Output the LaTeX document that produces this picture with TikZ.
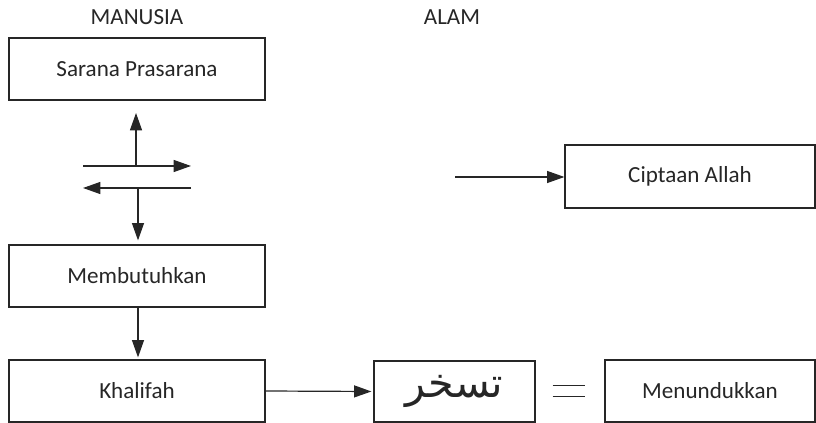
\documentclass[tikz,border=0pt]{standalone}
\usepackage{fontspec}
\setmainfont{Carlito}
\newfontfamily\arabicfont[Script=Arabic]{DejaVu Sans}
\TeXXeTstate=1
\usetikzlibrary{arrows.meta}

\tikzset{
  ink/.style={draw=black!85, line width=0.9pt},
  box/.style={ink, rectangle, inner sep=0pt, text=black!85,
              font=\fontsize{17.3}{20}\selectfont},
  lbl/.style={inner sep=0pt, text=black!85, font=\fontsize{17.3}{20}\selectfont},
  arr/.style={ink, -{Triangle[length=13pt, width=9pt]}},
}

\begin{document}
\begin{tikzpicture}[x=0.75pt, y=-0.75pt]
  \useasboundingbox (0,0) rectangle (816,423);

  % column headings
  \node[lbl] (manusia) at (137,17) {MANUSIA};
  \node[lbl] (alam)    at (452,17) {ALAM};

  % left column
  \node[box, minimum width=192pt, minimum height=46.5pt] (sarana) at (137,69)  {Sarana Prasarana};
  \node[box, minimum width=192pt, minimum height=46.5pt] (butuh)  at (137,276) {Membutuhkan};
  \node[box, minimum width=192pt, minimum height=46.5pt] (khal)   at (137,391) {Khalifah};

  % bottom row
  \node[box, minimum width=120.75pt, minimum height=45.75pt] (taskhir) at (454.5,391.5)
    {\arabicfont\fontsize{31}{34}\selectfont\beginR تسخر\endR};
  \node[box, minimum width=157.5pt, minimum height=46.5pt] (tunduk) at (710,391) {Menundukkan};

  % right box
  \node[box, minimum width=187.5pt, minimum height=47.25pt] (cipta) at (690,176.5) {Ciptaan Allah};

  % exchange arrows between the two upper boxes
  \coordinate (upfoot)   at (136,166);
  \coordinate (uptip)    at (136,113);
  \coordinate (rstart)   at (83,166);
  \coordinate (rend)     at (191,166);
  \coordinate (lstart)   at (191,188);
  \coordinate (lend)     at (83,188);
  \coordinate (downfoot) at (138,188);
  \draw[arr] (upfoot) -- (uptip);
  \draw[arr] (rstart) -- (rend);
  \draw[arr] (lstart) -- (lend);
  \draw[arr, shorten >=3pt] (downfoot) -- (downfoot |- butuh.north);

  % flow arrows
  \coordinate (flowx) at (138,0);
  \draw[arr, shorten >=1.5pt] (butuh.south -| flowx) -- (khal.north -| flowx);
  \draw[arr, shorten >=1.5pt] (khal.east) -- (taskhir.west);
  \coordinate (ciptstart) at (455,177);
  \draw[arr] (ciptstart) -- (ciptstart -| cipta.west);

  % equals sign
  \node[inner sep=0pt, minimum width=24pt, minimum height=7.5pt] (eq) at (569,391) {};
  \draw[ink, line width=0.7pt] (eq.north west) -- (eq.north east);
  \draw[ink, line width=0.7pt] (eq.south west) -- (eq.south east);
\end{tikzpicture}
\end{document}
